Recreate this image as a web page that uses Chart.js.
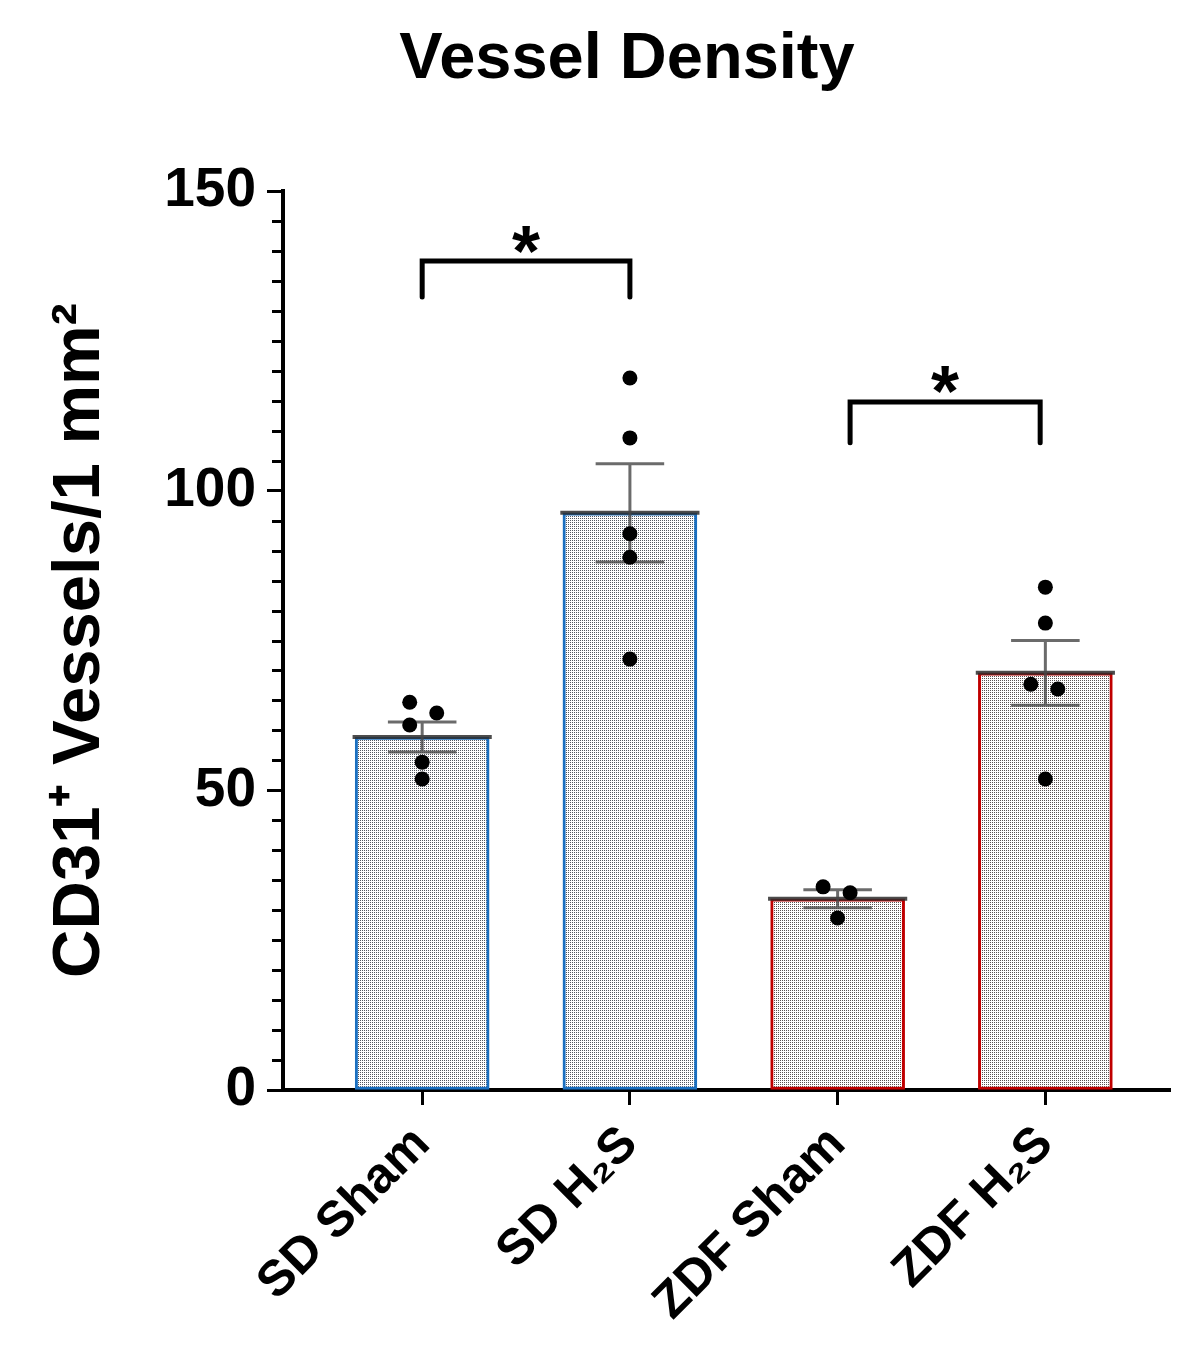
<!DOCTYPE html>
<html><head><meta charset="utf-8">
<script src="https://cdn.jsdelivr.net/npm/chart.js@4.4.1/dist/chart.umd.min.js"></script>
<style>html,body{margin:0;padding:0;background:#fff}#wrap{width:1192px;height:1354px;position:relative}</style>
</head><body><div id="wrap"><canvas id="c"></canvas></div>
<script>
// ---- data ----
const chartTitle = 'Vessel Density';
const yTitle = 'CD31⁺ Vessels/1 mm²';
const categories = ['SD Sham', 'SD H₂S', 'ZDF Sham', 'ZDF H₂S'];
const means = [58.9, 96.3, 31.9, 69.6];
const sems = [2.5, 8.2, 1.5, 5.4];
const pointGroups = [0, 0, 0, 0, 0, 1, 1, 1, 1, 1, 2, 2, 2, 3, 3, 3, 3, 3];
const pointJitter = [-0.06, 0.07, -0.06, 0, 0, 0, 0, 0, 0, 0, -0.07, 0.06, 0, 0, 0, -0.07, 0.06, 0];
const pointValues = [64.7, 62.9, 60.9, 54.7, 51.9, 118.8, 108.8, 92.8, 88.9, 71.9, 33.9, 32.9, 28.7, 83.9, 77.9, 67.7, 66.9, 51.9];
const bracketFrom = [0, 2.06];
const bracketTo = [1, 2.975];
const bracketTop = [138.3, 114.8];
const bracketBottom = [132.3, 108.0];
const bracketLabels = ['*', '*'];
const yTickStep = 50;
const minorTicks = [5, 10, 15, 20, 25, 30, 35, 40, 45, 55, 60, 65, 70, 75, 80, 85, 90, 95, 105, 110, 115, 120, 125, 130, 135, 140, 145];

// ---- styles ----
function makePattern(dot) {
  const c = document.createElement('canvas'); c.width = 2; c.height = 2;
  const g = c.getContext('2d');
  g.fillStyle = '#ffffff'; g.fillRect(0, 0, 2, 2);
  g.fillStyle = dot; g.fillRect(0, 0, 1, 1);
  return g.createPattern(c, 'repeat');
}
const sdPattern = makePattern('#545860');
const zdfPattern = makePattern('#5a5252');
const barFills = [sdPattern, sdPattern, zdfPattern, zdfPattern];
const barBorders = ['#1a6fc0', '#1a6fc0', '#c00000', '#c00000'];
const FONT = "'Liberation Sans', Arial, Helvetica, sans-serif";

const errorBars = {
  id: 'errorBars',
  afterDatasetDraw(chart, args) {
    if (args.index !== 1) return;
    const { ctx, scales: { x, y } } = chart;
    ctx.save();
    ctx.lineCap = 'butt';
    means.forEach((m, i) => {
      const cx = x.getPixelForValue(i);
      const yM = y.getPixelForValue(m);
      const yT = y.getPixelForValue(m + sems[i]);
      const yB = y.getPixelForValue(m - sems[i]);
      ctx.strokeStyle = 'rgba(45,45,45,0.85)';
      ctx.lineWidth = 4;
      ctx.beginPath();
      ctx.moveTo(x.getPixelForValue(i - 0.335), yM);
      ctx.lineTo(x.getPixelForValue(i + 0.335), yM);
      ctx.stroke();
      ctx.strokeStyle = 'rgba(70,70,70,0.8)';
      ctx.lineWidth = 3;
      ctx.beginPath();
      ctx.moveTo(cx, yT); ctx.lineTo(cx, yB);
      ctx.moveTo(x.getPixelForValue(i - 0.165), yT); ctx.lineTo(x.getPixelForValue(i + 0.165), yT);
      ctx.moveTo(x.getPixelForValue(i - 0.165), yB); ctx.lineTo(x.getPixelForValue(i + 0.165), yB);
      ctx.stroke();
    });
    ctx.restore();
  }
};

const extras = {
  id: 'extras',
  afterDraw(chart) {
    const { ctx, scales: { x, y } } = chart;
    ctx.save();
    // title
    ctx.fillStyle = '#000';
    ctx.font = 'bold 65px ' + FONT;
    ctx.textAlign = 'center';
    ctx.textBaseline = 'alphabetic';
    ctx.fillText(chartTitle, 627, 78);
    // minor ticks
    ctx.strokeStyle = '#000';
    ctx.lineWidth = 3;
    ctx.beginPath();
    minorTicks.forEach(v => {
      const py = Math.round(y.getPixelForValue(v)) + 0.5;
      ctx.moveTo(y.right - 11, py); ctx.lineTo(y.right, py);
    });
    ctx.stroke();
    // significance brackets
    ctx.lineWidth = 5;
    ctx.lineJoin = 'miter';
    ctx.lineCap = 'round';
    bracketLabels.forEach((lab, i) => {
      const x1 = x.getPixelForValue(bracketFrom[i]);
      const x2 = x.getPixelForValue(bracketTo[i]);
      const yt = y.getPixelForValue(bracketTop[i]);
      const yb = y.getPixelForValue(bracketBottom[i]);
      ctx.beginPath();
      ctx.moveTo(x1, yb); ctx.lineTo(x1, yt); ctx.lineTo(x2, yt); ctx.lineTo(x2, yb);
      ctx.stroke();
      ctx.font = 'bold 72px ' + FONT;
      ctx.fillStyle = '#000';
      ctx.textAlign = 'center';
      ctx.textBaseline = 'alphabetic';
      const m = ctx.measureText(lab);
      const cy = yt - 22;
      ctx.fillText(lab, (x1 + x2) / 2, cy + (m.actualBoundingBoxAscent - m.actualBoundingBoxDescent) / 2);
    });
    ctx.restore();
  }
};

new Chart(document.getElementById('c'), {
  type: 'bar',
  data: {
    datasets: [
      {
        type: 'scatter',
        data: pointValues.map((v, k) => ({ x: pointGroups[k] + pointJitter[k], y: v })),
        backgroundColor: '#000',
        borderColor: '#000',
        pointRadius: 7.5,
        borderWidth: 0
      },
      {
        type: 'bar',
        data: means.map((v, i) => ({ x: i, y: v })),
        backgroundColor: barFills,
        borderColor: barBorders,
        borderWidth: 3,
        borderSkipped: false,
        barThickness: 134
      }
    ]
  },
  options: {
    responsive: true,
    maintainAspectRatio: false,
    animation: false,
    devicePixelRatio: 1,
    layout: { padding: { top: 191, left: 0, right: 22, bottom: 0 } },
    plugins: {
      legend: { display: false },
      tooltip: { enabled: false },
      title: { display: false }
    },
    scales: {
      x: {
        type: 'linear',
        offset: false,
        min: -0.67,
        max: 3.6,
        afterBuildTicks: (s) => { s.ticks = categories.map((_, i) => ({ value: i })); },
        afterFit: (s) => { s.height = 264; },
        ticks: {
          autoSkip: false,
          minRotation: 45,
          maxRotation: 45,
          padding: 10,
          color: '#000',
          font: { family: FONT, size: 50, weight: 'bold' },
          callback: (v) => categories[v]
        },
        grid: { offset: false, drawOnChartArea: false, drawTicks: true, tickLength: 15, tickWidth: 3, tickColor: '#000' },
        border: { display: true, color: '#000', width: 4 }
      },
      y: {
        min: 0,
        max: 150,
        afterFit: (s) => { s.width = 283; },
        ticks: {
          stepSize: yTickStep,
          padding: 11,
          color: '#000',
          font: { family: FONT, size: 55, weight: 'bold' }
        },
        grid: { drawOnChartArea: false, drawTicks: true, tickLength: 16, tickWidth: 3, tickColor: '#000' },
        border: { display: true, color: '#000', width: 4 },
        title: {
          display: true,
          text: yTitle,
          color: '#000',
          font: { family: FONT, size: 67, weight: 'bold' },
          padding: { top: 40, bottom: 0 }
        }
      }
    }
  },
  plugins: [errorBars, extras]
});
</script>
</body></html>
